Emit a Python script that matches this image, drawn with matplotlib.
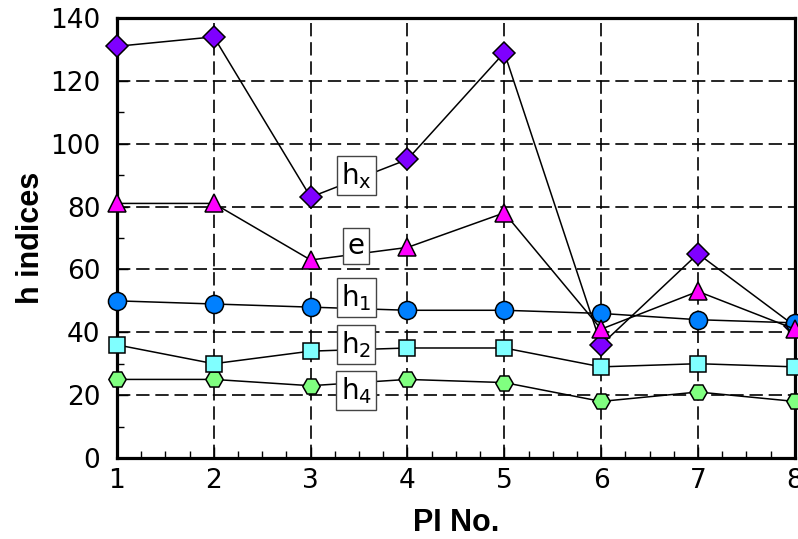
import matplotlib
import matplotlib.pyplot as plt
from matplotlib.ticker import MultipleLocator

matplotlib.use('agg')

pi_no = [1, 2, 3, 4, 5, 6, 7, 8]
h_x = [131, 134, 83, 95, 129, 36, 65, 42]
e = [81, 81, 63, 67, 78, 41, 53, 41]
h_1 = [50, 49, 48, 47, 47, 46, 44, 43]
h_2 = [36, 30, 34, 35, 35, 29, 30, 29]
h_4 = [25, 25, 23, 25, 24, 18, 21, 18]

labels = [r'h$_\mathregular{x}$', 'e', r'h$_\mathregular{1}$',
          r'h$_\mathregular{2}$', r'h$_\mathregular{4}$']
label_y = [90, 67.5, 51, 36, 21.5]
label_x = 3.47

fig = plt.figure(figsize=(7.98, 5.39), dpi=100)
ax = fig.add_axes([0.1466, 0.1503, 0.8494, 0.8163])

# (values, marker, face colour, size, zorder)
series = [
    (h_x, 'D', '#7F00FF', 11, 4.0),
    (e, '^', '#FF00FF', 12.5, 4.6),
    (h_1, 'o', '#0080FF', 13, 4.4),
    (h_2, 's', '#80FFFF', 12, 4.3),
    (h_4, 'H', '#80FF80', 12.5, 4.2),
]
for vals, mk, col, ms, z in series:
    ax.plot(pi_no, vals, color='black', lw=1.1, marker=mk, ms=ms,
            mfc=col, mec='black', mew=1.1, clip_on=False, zorder=z)

for txt, y in zip(labels, label_y):
    ax.text(label_x, y, txt, fontsize=20, ha='center', va='center', zorder=10,
            bbox=dict(boxstyle='square,pad=0.15', fc='white', ec='#444444', lw=1))

ax.set_xlim(1, 8)
ax.set_ylim(0, 140)
ax.xaxis.set_major_locator(MultipleLocator(1))
ax.xaxis.set_minor_locator(MultipleLocator(0.25))
ax.yaxis.set_major_locator(MultipleLocator(20))
ax.yaxis.set_minor_locator(MultipleLocator(10))
ax.tick_params(which='both', direction='in', labelsize=19, width=1)
ax.tick_params(which='major', length=8)
ax.tick_params(axis='x', which='major', pad=7)
ax.tick_params(axis='y', which='major', pad=12)
ax.tick_params(which='minor', length=5)
ax.grid(True, which='major', color='black', ls=(0, (8, 3.5)), lw=1.2)
for sp in ax.spines.values():
    sp.set_linewidth(2.3)

ax.set_xlabel('PI No.', fontsize=22, fontweight='bold', family='Liberation Sans',
              labelpad=10)
ax.set_ylabel('h indices', fontsize=22, fontweight='bold', family='Liberation Sans',
              labelpad=3)

fig.savefig('out.png', dpi=100)
